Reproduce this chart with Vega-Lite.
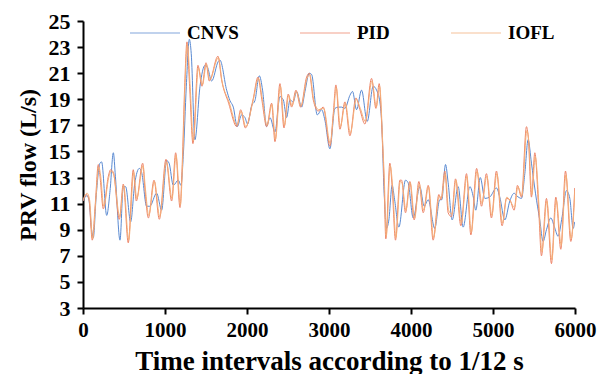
{
  "$schema": "https://vega.github.io/schema/vega-lite/v6.json",
  "width": 492,
  "height": 287,
  "autosize": {"type": "none"},
  "padding": {"left": 83, "top": 21, "right": 22, "bottom": 66},
  "background": "white",
  "config": {
    "view": {"stroke": null},
    "font": "Liberation Serif"
  },
  "data": {"values": [
    {"s":"CNVS","t":0,"v":11.2},{"s":"CNVS","t":45,"v":11.6},{"s":"CNVS","t":70,"v":11.4},{"s":"CNVS","t":105,"v":9.0},{"s":"CNVS","t":126,"v":8.4},{"s":"CNVS","t":160,"v":11.5},{"s":"CNVS","t":207,"v":14.1},{"s":"CNVS","t":227,"v":14.2},{"s":"CNVS","t":289,"v":10.1},{"s":"CNVS","t":330,"v":12.0},{"s":"CNVS","t":370,"v":14.9},{"s":"CNVS","t":395,"v":13.1},{"s":"CNVS","t":451,"v":8.2},{"s":"CNVS","t":491,"v":12.3},{"s":"CNVS","t":520,"v":12.3},{"s":"CNVS","t":581,"v":9.6},{"s":"CNVS","t":630,"v":12.5},{"s":"CNVS","t":687,"v":13.7},{"s":"CNVS","t":715,"v":13.4},{"s":"CNVS","t":776,"v":10.8},{"s":"CNVS","t":815,"v":10.8},{"s":"CNVS","t":898,"v":11.8},{"s":"CNVS","t":959,"v":10.5},{"s":"CNVS","t":1020,"v":14.3},{"s":"CNVS","t":1050,"v":14.1},{"s":"CNVS","t":1101,"v":12.4},{"s":"CNVS","t":1162,"v":12.8},{"s":"CNVS","t":1195,"v":12.4},{"s":"CNVS","t":1224,"v":14.8},{"s":"CNVS","t":1260,"v":20.0},{"s":"CNVS","t":1297,"v":23.6},{"s":"CNVS","t":1320,"v":22.5},{"s":"CNVS","t":1365,"v":15.9},{"s":"CNVS","t":1427,"v":20.0},{"s":"CNVS","t":1488,"v":21.6},{"s":"CNVS","t":1515,"v":21.5},{"s":"CNVS","t":1569,"v":20.4},{"s":"CNVS","t":1650,"v":21.9},{"s":"CNVS","t":1670,"v":22.0},{"s":"CNVS","t":1752,"v":19.7},{"s":"CNVS","t":1792,"v":18.9},{"s":"CNVS","t":1833,"v":18.4},{"s":"CNVS","t":1881,"v":16.9},{"s":"CNVS","t":1934,"v":17.8},{"s":"CNVS","t":1975,"v":17.6},{"s":"CNVS","t":2007,"v":17.1},{"s":"CNVS","t":2056,"v":18.5},{"s":"CNVS","t":2097,"v":18.9},{"s":"CNVS","t":2150,"v":20.8},{"s":"CNVS","t":2190,"v":19.7},{"s":"CNVS","t":2239,"v":16.9},{"s":"CNVS","t":2280,"v":17.6},{"s":"CNVS","t":2341,"v":16.5},{"s":"CNVS","t":2402,"v":19.2},{"s":"CNVS","t":2443,"v":18.95},{"s":"CNVS","t":2483,"v":17.6},{"s":"CNVS","t":2524,"v":18.95},{"s":"CNVS","t":2564,"v":18.8},{"s":"CNVS","t":2605,"v":19.6},{"s":"CNVS","t":2666,"v":18.4},{"s":"CNVS","t":2707,"v":19.6},{"s":"CNVS","t":2759,"v":21.0},{"s":"CNVS","t":2788,"v":20.9},{"s":"CNVS","t":2857,"v":17.8},{"s":"CNVS","t":2910,"v":18.2},{"s":"CNVS","t":2950,"v":17.4},{"s":"CNVS","t":3011,"v":15.2},{"s":"CNVS","t":3072,"v":18.3},{"s":"CNVS","t":3113,"v":18.4},{"s":"CNVS","t":3153,"v":18.4},{"s":"CNVS","t":3194,"v":18.3},{"s":"CNVS","t":3255,"v":19.3},{"s":"CNVS","t":3287,"v":19.6},{"s":"CNVS","t":3336,"v":18.2},{"s":"CNVS","t":3397,"v":19.7},{"s":"CNVS","t":3466,"v":17.3},{"s":"CNVS","t":3539,"v":20.0},{"s":"CNVS","t":3580,"v":19.7},{"s":"CNVS","t":3620,"v":18.8},{"s":"CNVS","t":3652,"v":15.9},{"s":"CNVS","t":3665,"v":13.0},{"s":"CNVS","t":3681,"v":10.8},{"s":"CNVS","t":3700,"v":9.1},{"s":"CNVS","t":3730,"v":9.75},{"s":"CNVS","t":3770,"v":12.4},{"s":"CNVS","t":3800,"v":11.3},{"s":"CNVS","t":3852,"v":9.2},{"s":"CNVS","t":3933,"v":12.8},{"s":"CNVS","t":3965,"v":12.6},{"s":"CNVS","t":4027,"v":9.9},{"s":"CNVS","t":4108,"v":12.3},{"s":"CNVS","t":4160,"v":10.8},{"s":"CNVS","t":4210,"v":11.3},{"s":"CNVS","t":4290,"v":9.1},{"s":"CNVS","t":4350,"v":11.3},{"s":"CNVS","t":4375,"v":11.3},{"s":"CNVS","t":4421,"v":14.0},{"s":"CNVS","t":4453,"v":12.6},{"s":"CNVS","t":4502,"v":9.75},{"s":"CNVS","t":4575,"v":12.3},{"s":"CNVS","t":4636,"v":9.2},{"s":"CNVS","t":4718,"v":12.3},{"s":"CNVS","t":4760,"v":11.5},{"s":"CNVS","t":4790,"v":10.5},{"s":"CNVS","t":4845,"v":13.0},{"s":"CNVS","t":4900,"v":11.4},{"s":"CNVS","t":4960,"v":11.5},{"s":"CNVS","t":5042,"v":12.2},{"s":"CNVS","t":5083,"v":11.5},{"s":"CNVS","t":5144,"v":9.75},{"s":"CNVS","t":5205,"v":11.2},{"s":"CNVS","t":5258,"v":11.8},{"s":"CNVS","t":5290,"v":11.6},{"s":"CNVS","t":5347,"v":11.4},{"s":"CNVS","t":5388,"v":13.3},{"s":"CNVS","t":5428,"v":15.9},{"s":"CNVS","t":5469,"v":14.1},{"s":"CNVS","t":5518,"v":11.8},{"s":"CNVS","t":5570,"v":9.75},{"s":"CNVS","t":5611,"v":8.1},{"s":"CNVS","t":5652,"v":9.0},{"s":"CNVS","t":5705,"v":9.9},{"s":"CNVS","t":5750,"v":9.2},{"s":"CNVS","t":5794,"v":8.5},{"s":"CNVS","t":5843,"v":10.0},{"s":"CNVS","t":5896,"v":12.0},{"s":"CNVS","t":5937,"v":11.4},{"s":"CNVS","t":5977,"v":9.1},{"s":"CNVS","t":5997,"v":9.6},

    {"s":"PID","t":0,"v":11.2},{"s":"PID","t":45,"v":11.7},{"s":"PID","t":75,"v":11.2},{"s":"PID","t":113,"v":8.2},{"s":"PID","t":150,"v":11.0},{"s":"PID","t":187,"v":14.0},{"s":"PID","t":207,"v":13.1},{"s":"PID","t":248,"v":10.6},{"s":"PID","t":309,"v":13.1},{"s":"PID","t":337,"v":13.6},{"s":"PID","t":370,"v":13.4},{"s":"PID","t":443,"v":9.8},{"s":"PID","t":491,"v":12.5},{"s":"PID","t":552,"v":8.0},{"s":"PID","t":613,"v":13.6},{"s":"PID","t":650,"v":11.2},{"s":"PID","t":728,"v":14.1},{"s":"PID","t":755,"v":12.1},{"s":"PID","t":797,"v":9.9},{"s":"PID","t":866,"v":12.8},{"s":"PID","t":931,"v":9.8},{"s":"PID","t":1012,"v":14.4},{"s":"PID","t":1081,"v":11.2},{"s":"PID","t":1130,"v":14.9},{"s":"PID","t":1183,"v":10.7},{"s":"PID","t":1210,"v":14.0},{"s":"PID","t":1240,"v":20.0},{"s":"PID","t":1268,"v":23.4},{"s":"PID","t":1300,"v":20.0},{"s":"PID","t":1341,"v":15.6},{"s":"PID","t":1402,"v":21.6},{"s":"PID","t":1451,"v":20.0},{"s":"PID","t":1500,"v":21.8},{"s":"PID","t":1540,"v":20.4},{"s":"PID","t":1646,"v":22.3},{"s":"PID","t":1690,"v":20.5},{"s":"PID","t":1776,"v":18.7},{"s":"PID","t":1875,"v":16.9},{"s":"PID","t":1923,"v":18.2},{"s":"PID","t":1980,"v":16.8},{"s":"PID","t":2073,"v":18.95},{"s":"PID","t":2134,"v":20.7},{"s":"PID","t":2180,"v":19.0},{"s":"PID","t":2240,"v":16.9},{"s":"PID","t":2300,"v":18.7},{"s":"PID","t":2341,"v":15.75},{"s":"PID","t":2402,"v":20.2},{"s":"PID","t":2451,"v":16.8},{"s":"PID","t":2503,"v":19.4},{"s":"PID","t":2544,"v":18.4},{"s":"PID","t":2597,"v":19.7},{"s":"PID","t":2654,"v":18.4},{"s":"PID","t":2727,"v":20.7},{"s":"PID","t":2759,"v":21.0},{"s":"PID","t":2808,"v":18.95},{"s":"PID","t":2869,"v":18.1},{"s":"PID","t":2930,"v":18.4},{"s":"PID","t":3011,"v":15.4},{"s":"PID","t":3052,"v":17.9},{"s":"PID","t":3084,"v":20.1},{"s":"PID","t":3133,"v":16.7},{"s":"PID","t":3194,"v":18.8},{"s":"PID","t":3255,"v":16.2},{"s":"PID","t":3328,"v":19.1},{"s":"PID","t":3377,"v":18.2},{"s":"PID","t":3438,"v":17.1},{"s":"PID","t":3519,"v":20.6},{"s":"PID","t":3572,"v":18.3},{"s":"PID","t":3612,"v":20.2},{"s":"PID","t":3652,"v":15.6},{"s":"PID","t":3670,"v":13.0},{"s":"PID","t":3693,"v":8.3},{"s":"PID","t":3742,"v":14.1},{"s":"PID","t":3770,"v":12.3},{"s":"PID","t":3811,"v":8.2},{"s":"PID","t":3864,"v":12.8},{"s":"PID","t":3885,"v":12.8},{"s":"PID","t":3933,"v":10.3},{"s":"PID","t":3986,"v":12.7},{"s":"PID","t":4039,"v":9.75},{"s":"PID","t":4096,"v":12.7},{"s":"PID","t":4149,"v":10.3},{"s":"PID","t":4210,"v":12.4},{"s":"PID","t":4270,"v":8.2},{"s":"PID","t":4340,"v":11.7},{"s":"PID","t":4365,"v":11.3},{"s":"PID","t":4413,"v":13.5},{"s":"PID","t":4453,"v":10.3},{"s":"PID","t":4494,"v":10.0},{"s":"PID","t":4543,"v":12.9},{"s":"PID","t":4608,"v":9.3},{"s":"PID","t":4677,"v":13.3},{"s":"PID","t":4730,"v":8.6},{"s":"PID","t":4800,"v":13.7},{"s":"PID","t":4860,"v":10.8},{"s":"PID","t":4920,"v":13.3},{"s":"PID","t":4981,"v":9.9},{"s":"PID","t":5042,"v":13.5},{"s":"PID","t":5111,"v":9.3},{"s":"PID","t":5164,"v":11.4},{"s":"PID","t":5205,"v":11.3},{"s":"PID","t":5258,"v":10.5},{"s":"PID","t":5298,"v":12.4},{"s":"PID","t":5347,"v":11.5},{"s":"PID","t":5408,"v":16.9},{"s":"PID","t":5430,"v":16.1},{"s":"PID","t":5469,"v":11.5},{"s":"PID","t":5510,"v":14.9},{"s":"PID","t":5559,"v":10.3},{"s":"PID","t":5591,"v":7.0},{"s":"PID","t":5652,"v":11.4},{"s":"PID","t":5713,"v":6.4},{"s":"PID","t":5766,"v":11.5},{"s":"PID","t":5827,"v":7.5},{"s":"PID","t":5884,"v":13.5},{"s":"PID","t":5949,"v":8.1},{"s":"PID","t":5997,"v":12.2},

    {"s":"IOFL","t":0,"v":11.3},{"s":"IOFL","t":50,"v":11.8},{"s":"IOFL","t":80,"v":11.3},{"s":"IOFL","t":118,"v":8.3},{"s":"IOFL","t":155,"v":11.2},{"s":"IOFL","t":192,"v":13.8},{"s":"IOFL","t":212,"v":13.3},{"s":"IOFL","t":253,"v":10.8},{"s":"IOFL","t":314,"v":13.0},{"s":"IOFL","t":342,"v":13.5},{"s":"IOFL","t":375,"v":13.2},{"s":"IOFL","t":448,"v":10.0},{"s":"IOFL","t":496,"v":12.4},{"s":"IOFL","t":557,"v":8.2},{"s":"IOFL","t":618,"v":13.4},{"s":"IOFL","t":655,"v":11.4},{"s":"IOFL","t":733,"v":13.9},{"s":"IOFL","t":760,"v":12.2},{"s":"IOFL","t":802,"v":10.1},{"s":"IOFL","t":871,"v":12.7},{"s":"IOFL","t":936,"v":10.0},{"s":"IOFL","t":1017,"v":14.2},{"s":"IOFL","t":1086,"v":11.4},{"s":"IOFL","t":1135,"v":14.7},{"s":"IOFL","t":1188,"v":10.9},{"s":"IOFL","t":1215,"v":14.2},{"s":"IOFL","t":1245,"v":20.2},{"s":"IOFL","t":1273,"v":23.2},{"s":"IOFL","t":1305,"v":20.2},{"s":"IOFL","t":1346,"v":15.8},{"s":"IOFL","t":1407,"v":21.4},{"s":"IOFL","t":1456,"v":20.1},{"s":"IOFL","t":1505,"v":21.7},{"s":"IOFL","t":1545,"v":20.5},{"s":"IOFL","t":1651,"v":22.2},{"s":"IOFL","t":1695,"v":20.4},{"s":"IOFL","t":1781,"v":18.8},{"s":"IOFL","t":1880,"v":17.0},{"s":"IOFL","t":1928,"v":18.1},{"s":"IOFL","t":1985,"v":16.9},{"s":"IOFL","t":2078,"v":19.0},{"s":"IOFL","t":2139,"v":20.6},{"s":"IOFL","t":2185,"v":19.1},{"s":"IOFL","t":2245,"v":17.0},{"s":"IOFL","t":2305,"v":18.6},{"s":"IOFL","t":2346,"v":15.9},{"s":"IOFL","t":2407,"v":20.0},{"s":"IOFL","t":2456,"v":17.0},{"s":"IOFL","t":2508,"v":19.3},{"s":"IOFL","t":2549,"v":18.5},{"s":"IOFL","t":2602,"v":19.6},{"s":"IOFL","t":2659,"v":18.5},{"s":"IOFL","t":2732,"v":20.6},{"s":"IOFL","t":2764,"v":20.9},{"s":"IOFL","t":2813,"v":19.0},{"s":"IOFL","t":2874,"v":18.2},{"s":"IOFL","t":2935,"v":18.3},{"s":"IOFL","t":3016,"v":15.6},{"s":"IOFL","t":3057,"v":18.0},{"s":"IOFL","t":3089,"v":19.9},{"s":"IOFL","t":3138,"v":16.9},{"s":"IOFL","t":3199,"v":18.7},{"s":"IOFL","t":3260,"v":16.4},{"s":"IOFL","t":3333,"v":19.0},{"s":"IOFL","t":3382,"v":18.3},{"s":"IOFL","t":3443,"v":17.3},{"s":"IOFL","t":3524,"v":20.4},{"s":"IOFL","t":3577,"v":18.4},{"s":"IOFL","t":3617,"v":20.0},{"s":"IOFL","t":3657,"v":15.4},{"s":"IOFL","t":3675,"v":12.8},{"s":"IOFL","t":3698,"v":8.5},{"s":"IOFL","t":3747,"v":13.9},{"s":"IOFL","t":3775,"v":12.4},{"s":"IOFL","t":3816,"v":8.4},{"s":"IOFL","t":3869,"v":12.7},{"s":"IOFL","t":3890,"v":12.6},{"s":"IOFL","t":3938,"v":10.5},{"s":"IOFL","t":3991,"v":12.6},{"s":"IOFL","t":4044,"v":9.9},{"s":"IOFL","t":4101,"v":12.5},{"s":"IOFL","t":4154,"v":10.5},{"s":"IOFL","t":4215,"v":12.3},{"s":"IOFL","t":4275,"v":8.4},{"s":"IOFL","t":4345,"v":11.6},{"s":"IOFL","t":4370,"v":11.4},{"s":"IOFL","t":4418,"v":13.3},{"s":"IOFL","t":4458,"v":10.5},{"s":"IOFL","t":4499,"v":10.2},{"s":"IOFL","t":4548,"v":12.8},{"s":"IOFL","t":4613,"v":9.5},{"s":"IOFL","t":4682,"v":13.1},{"s":"IOFL","t":4735,"v":8.8},{"s":"IOFL","t":4805,"v":13.5},{"s":"IOFL","t":4865,"v":11.0},{"s":"IOFL","t":4925,"v":13.1},{"s":"IOFL","t":4986,"v":10.1},{"s":"IOFL","t":5047,"v":13.3},{"s":"IOFL","t":5116,"v":9.5},{"s":"IOFL","t":5169,"v":11.5},{"s":"IOFL","t":5210,"v":11.2},{"s":"IOFL","t":5263,"v":10.7},{"s":"IOFL","t":5303,"v":12.3},{"s":"IOFL","t":5352,"v":11.6},{"s":"IOFL","t":5413,"v":16.6},{"s":"IOFL","t":5435,"v":15.9},{"s":"IOFL","t":5474,"v":11.7},{"s":"IOFL","t":5515,"v":14.6},{"s":"IOFL","t":5564,"v":10.5},{"s":"IOFL","t":5596,"v":7.3},{"s":"IOFL","t":5657,"v":11.2},{"s":"IOFL","t":5718,"v":6.7},{"s":"IOFL","t":5771,"v":11.3},{"s":"IOFL","t":5832,"v":7.8},{"s":"IOFL","t":5889,"v":13.2},{"s":"IOFL","t":5954,"v":8.3},{"s":"IOFL","t":5999,"v":12.0}
  ]},
  "mark": {"type": "line", "strokeWidth": 1, "interpolate": "monotone", "clip": true},
  "encoding": {
    "x": {
      "field": "t", "type": "quantitative",
      "scale": {"domain": [0, 6000], "nice": false},
      "axis": {
        "title": "Time intervals according to 1/12 s",
        "values": [0, 1000, 2000, 3000, 4000, 5000, 6000],
        "format": "d",
        "grid": false,
        "domainColor": "black", "domainWidth": 2,
        "tickColor": "black", "tickWidth": 2, "tickSize": 6,
        "labelFont": "Liberation Serif", "labelFontWeight": 700, "labelFontSize": 21, "labelColor": "black",
        "labelPadding": 5, "labelFlush": false,
        "titleFont": "Liberation Serif", "titleFontWeight": 700, "titleFontSize": 27, "titleColor": "black",
        "titlePadding": 8
      }
    },
    "y": {
      "field": "v", "type": "quantitative",
      "scale": {"domain": [3, 25], "nice": false, "zero": false},
      "axis": {
        "title": "PRV flow (L/s)",
        "values": [3, 5, 7, 9, 11, 13, 15, 17, 19, 21, 23, 25],
        "grid": false,
        "domainColor": "black", "domainWidth": 2,
        "tickColor": "black", "tickWidth": 2, "tickSize": 6,
        "labelFont": "Liberation Serif", "labelFontWeight": 700, "labelFontSize": 22, "labelColor": "black",
        "labelPadding": 7, "labelFlush": false,
        "titleFont": "Liberation Serif", "titleFontWeight": 700, "titleFontSize": 24, "titleColor": "black",
        "titlePadding": 8
      }
    },
    "color": {
      "field": "s", "type": "nominal",
      "scale": {"domain": ["CNVS", "PID", "IOFL"], "range": ["#5A8AD2", "#EE8468", "#F5AE78"]},
      "legend": {
        "title": null,
        "orient": "none",
        "legendX": 46,
        "legendY": -14,
        "direction": "horizontal",
        "symbolType": "stroke",
        "symbolSize": 2500,
        "symbolStrokeWidth": 1.5,
        "symbolOpacity": 0.5,
        "labelFont": "Liberation Serif", "labelFontWeight": 700, "labelFontSize": 19, "labelColor": "black",
        "labelOffset": 6,
        "columnPadding": 58
      }
    }
  }
}
